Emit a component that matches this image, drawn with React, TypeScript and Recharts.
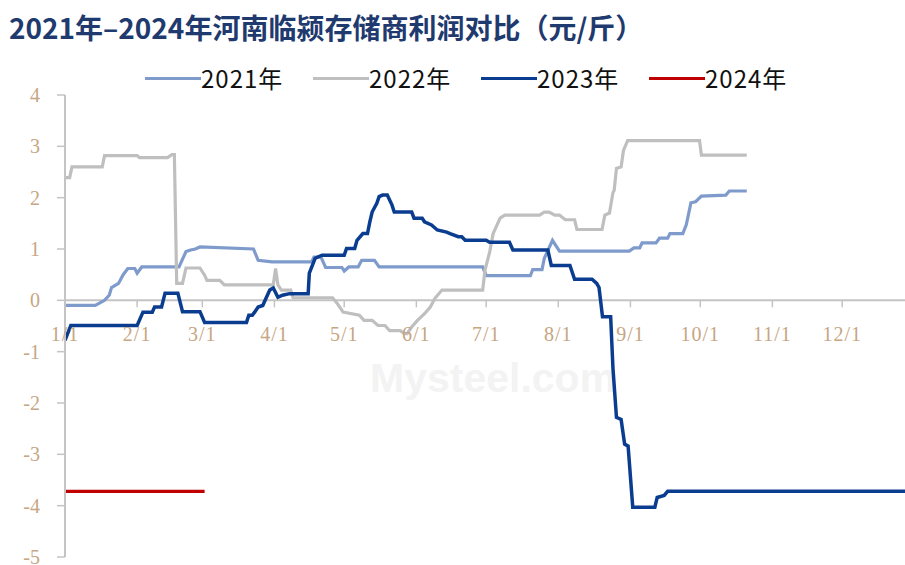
import { Line, LineChart, ReferenceLine, XAxis, YAxis } from "recharts";

// day of year -> profit (元/斤)
const S2021: [number, number][] = [
  [0, -0.1], [13, -0.1], [17, 0], [19, 0.1], [20, 0.25], [23, 0.33], [25, 0.5], [27, 0.62],
  [30, 0.62], [31, 0.53], [33, 0.65], [49, 0.65], [52, 0.95], [54, 0.98], [56, 1.0], [58, 1.04],
  [81, 1.0], [83, 0.78], [89, 0.75], [106, 0.75], [107, 0.84], [110, 0.84], [112, 0.64],
  [119, 0.64], [120, 0.57], [122, 0.65], [126, 0.65], [127.5, 0.78], [133, 0.78], [135, 0.65],
  [179.5, 0.65], [181, 0.48], [200, 0.48], [201, 0.6], [205, 0.6], [206, 0.82], [209.5, 1.17],
  [212.5, 0.96], [242.5, 0.96], [244.5, 1.02], [247, 1.02], [248, 1.12], [254, 1.12],
  [255.5, 1.21], [259, 1.21], [260, 1.3], [265.5, 1.3], [267, 1.47], [269, 1.9], [271, 1.92],
  [273.5, 2.03], [284, 2.05], [285.5, 2.13], [293, 2.13]
];

const S2022: [number, number][] = [
  [0, 2.39], [2, 2.39], [3, 2.6], [16, 2.6], [17, 2.82], [31, 2.82], [32, 2.78], [44, 2.78],
  [46, 2.84], [47, 2.84], [48, 0.33], [50.5, 0.33], [52, 0.63], [58, 0.63], [60, 0.49],
  [61, 0.39], [66.5, 0.39], [68.5, 0.3], [89.5, 0.3], [90.5, 0.62], [91.5, 0.3], [93, 0.2],
  [97, 0.2], [98, 0.05], [115, 0.05], [117, -0.06], [119.5, -0.23], [126.5, -0.29],
  [128.5, -0.39], [132, -0.39], [134.5, -0.49], [137.5, -0.49], [139.5, -0.59], [144, -0.59],
  [146, -0.65], [147, -0.65], [149, -0.52], [151.5, -0.39], [154.5, -0.26], [157, -0.13],
  [159, 0.04], [162, 0.2], [179.5, 0.2], [180.5, 0.59], [182.5, 0.94], [184, 1.3],
  [185.5, 1.45], [187, 1.6], [189, 1.66], [204, 1.66], [206, 1.72], [208, 1.72], [210.5, 1.66],
  [212.5, 1.66], [215, 1.57], [219, 1.57], [220, 1.38], [230.8, 1.38], [232, 1.66], [234, 1.7],
  [235.5, 2.1], [236, 2.14], [237, 2.57], [239, 2.6], [240, 2.92], [241.8, 3.11], [272.7, 3.11],
  [273.5, 2.83], [293, 2.83]
];

const S2023: [number, number][] = [
  [0, -0.78], [2.5, -0.49], [31, -0.49], [33.5, -0.23], [37.5, -0.23], [38.5, -0.13],
  [41.5, -0.13], [43, 0.14], [48.5, 0.14], [50.5, -0.22], [58, -0.22], [60, -0.43], [78, -0.43],
  [79, -0.29], [80.5, -0.29], [81.5, -0.23], [83, -0.13], [85, -0.1], [86, 0], [88, 0.2],
  [89.5, 0.24], [91.5, 0.06], [93.5, 0.1], [96.5, 0.13], [104.5, 0.13], [105, 0.53],
  [107.5, 0.82], [110.5, 0.88], [120, 0.88], [121, 1.01], [124.5, 1.01], [125.5, 1.17],
  [128, 1.3], [130, 1.3], [131, 1.53], [132, 1.72], [134, 1.89], [135, 2.02], [136.5, 2.05],
  [138.5, 2.05], [140.5, 1.86], [141.5, 1.72], [149, 1.72], [150, 1.6], [153.5, 1.6],
  [154.5, 1.53], [157.5, 1.47], [160, 1.37], [164, 1.33], [165.5, 1.3], [169, 1.24],
  [170.5, 1.24], [172, 1.17], [181, 1.17], [182.5, 1.13], [191, 1.13], [192.5, 0.98],
  [207.5, 0.98], [209, 0.68], [217, 0.68], [219, 0.41], [226.5, 0.41], [228.5, 0.33],
  [229.5, 0.25], [231, -0.32], [234.5, -0.32], [235.5, -1.33], [237, -2.28], [239, -2.32],
  [240.5, -2.8], [242, -2.84], [244, -4.03], [253.5, -4.03], [254.5, -3.84], [257.5, -3.8],
  [259, -3.72], [364, -3.72]
];

const S2024: [number, number][] = [
  [0, -3.72], [60, -3.72]
];

const SERIES = [
  { name: "2021年", data: S2021, color: "#7F9BCB", width: 3.2 },
  { name: "2022年", data: S2022, color: "#BFBFBF", width: 3.2 },
  { name: "2023年", data: S2023, color: "#0A3D8F", width: 3.5 },
  { name: "2024年", data: S2024, color: "#C00000", width: 3.2 }
];

const MONTH_DAYS = [0, 31, 59, 90, 120, 151, 181, 212, 243, 273, 304, 334];
const MONTH_LABELS = ["1/1", "2/1", "3/1", "4/1", "5/1", "6/1", "7/1", "8/1", "9/1", "10/1", "11/1", "12/1"];
const Y_TICKS = [-5, -4, -3, -2, -1, 0, 1, 2, 3, 4];

const Y_MIN = -5;
const Y_MAX = 4;
const CHART_W = 905;
const CHART_H = 565;
const TOP = 95;
const X_AXIS_H = 8;
const PLOT_H = CHART_H - TOP - X_AXIS_H;
const ZERO_Y = TOP + (PLOT_H * Y_MAX) / (Y_MAX - Y_MIN);

const AXIS_GRAY = "#C4C4C4";
const LABEL_TAN = "#C6A684";
const SERIF = "'Liberation Serif', 'DejaVu Serif', serif";
const CJK = "'Noto Sans CJK SC', 'Noto Sans', sans-serif";

function MonthTick(props: any) {
  const { x, payload } = props;
  const i = MONTH_DAYS.indexOf(payload.value);
  return (
    <g>
      <line x1={x} x2={x} y1={ZERO_Y} y2={ZERO_Y + 7} stroke={AXIS_GRAY} strokeWidth={1.5} />
      <text
        x={x}
        y={ZERO_Y + 41}
        textAnchor="middle"
        fill={LABEL_TAN}
        fontSize={20}
        fontFamily={SERIF}
        letterSpacing={1}
      >
        {MONTH_LABELS[i]}
      </text>
    </g>
  );
}

export default function App() {
  return (
    <div
      style={{
        position: "absolute",
        left: 0,
        top: 0,
        width: CHART_W,
        height: CHART_H,
        overflow: "hidden",
        background: "#fff"
      }}
    >
      <div
        style={{
          position: "absolute",
          left: 9,
          top: 9,
          height: 36,
          lineHeight: "36px",
          fontSize: 28,
          fontWeight: 700,
          fontFamily: CJK,
          color: "#1F3A6E",
          whiteSpace: "nowrap"
        }}
      >
        2021年–2024年河南临颍存储商利润对比（元/斤）
      </div>

      <div style={{ position: "absolute", left: 145, top: 62, height: 32, display: "flex" }}>
        {SERIES.map((s) => (
          <div key={s.name} style={{ width: 168, display: "flex", alignItems: "center" }}>
            <span style={{ display: "inline-block", width: 56, height: 3, background: s.color }} />
            <span
              style={{
                fontSize: 24,
                lineHeight: "32px",
                fontFamily: CJK,
                color: "#111",
                letterSpacing: 1
              }}
            >
              {s.name}
            </span>
          </div>
        ))}
      </div>

      <div
        style={{
          position: "absolute",
          left: 370,
          top: 355,
          fontSize: 41,
          fontFamily: "'Liberation Sans', Arial, sans-serif",
          fontWeight: 700,
          color: "#F3F3F3",
          whiteSpace: "nowrap"
        }}
      >
        Mysteel.com
      </div>

      <div style={{ position: "absolute", left: 0, top: 0 }}>
        <LineChart width={CHART_W} height={CHART_H} margin={{ top: TOP, right: 0, bottom: 0, left: 0 }}>
          <XAxis
            type="number"
            dataKey="d"
            domain={[0, 361]}
            allowDataOverflow
            ticks={MONTH_DAYS}
            interval={0}
            axisLine={false}
            tickLine={false}
            height={X_AXIS_H}
            tick={<MonthTick />}
          />
          <YAxis
            type="number"
            domain={[Y_MIN, Y_MAX]}
            ticks={Y_TICKS}
            interval={0}
            width={65}
            tickSize={8}
            tickMargin={17}
            axisLine={{ stroke: AXIS_GRAY, strokeWidth: 2 }}
            tickLine={{ stroke: AXIS_GRAY, strokeWidth: 1.5 }}
            tick={{ fill: LABEL_TAN, fontSize: 20, fontFamily: SERIF }}
          />
          <ReferenceLine y={0} stroke={AXIS_GRAY} strokeWidth={2} />
          {SERIES.map((s) => (
            <Line
              key={s.name}
              name={s.name}
              data={s.data.map(([d, v]) => ({ d, v }))}
              dataKey="v"
              type="linear"
              stroke={s.color}
              strokeWidth={s.width}
              dot={false}
              activeDot={false}
              isAnimationActive={false}
            />
          ))}
        </LineChart>
      </div>
    </div>
  );
}
